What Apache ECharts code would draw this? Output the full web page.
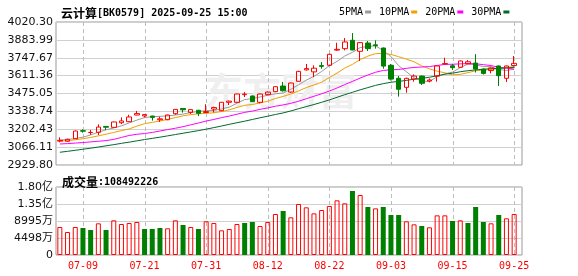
<!DOCTYPE html>
<html><head><meta charset="utf-8">
<script src="https://cdn.jsdelivr.net/npm/echarts@6/dist/echarts.min.js"></script>
<style>html,body{margin:0;padding:0;background:#fff;}#c{width:578px;height:276px;}</style>
</head><body><div id="c"></div>
<script>
const dates = ['07-04','07-07','07-08','07-09','07-10','07-11','07-14','07-15','07-16','07-17','07-18','07-21','07-22','07-23','07-24','07-25','07-28','07-29','07-30','07-31','08-01','08-04','08-05','08-06','08-07','08-08','08-11','08-12','08-13','08-14','08-15','08-18','08-19','08-20','08-21','08-22','08-25','08-26','08-27','08-28','08-29','09-01','09-02','09-03','09-04','09-05','09-08','09-09','09-10','09-11','09-12','09-15','09-16','09-17','09-18','09-19','09-22','09-23','09-24','09-25'];
const opens  = [3112,3111,3130,3191,3177,3179,3224,3217,3252,3260,3311,3304,3303,3275,3275,3321,3361,3331,3347,3330,3356,3344,3408,3408,3466,3456,3408,3466,3489,3532,3486,3568,3655,3640,3688,3690,3806,3817,3881,3797,3860,3846,3822,3690,3591,3522,3586,3608,3570,3608,3700,3686,3675,3702,3707,3661,3650,3685,3591,3688];
const closes = [3118,3126,3189,3188,3178,3219,3218,3258,3266,3296,3322,3314,3293,3282,3311,3354,3351,3352,3324,3337,3368,3408,3417,3471,3470,3413,3471,3486,3527,3496,3555,3644,3665,3668,3682,3774,3812,3868,3807,3863,3817,3840,3684,3585,3507,3591,3608,3553,3578,3685,3703,3672,3723,3717,3662,3628,3670,3611,3685,3705];
const lows   = [3103,3108,3128,3176,3160,3158,3197,3215,3242,3258,3309,3293,3268,3258,3272,3313,3329,3319,3303,3326,3330,3340,3387,3405,3448,3410,3400,3462,3485,3490,3480,3565,3650,3600,3664,3686,3800,3804,3805,3723,3799,3817,3664,3575,3451,3481,3565,3540,3560,3565,3698,3655,3672,3698,3635,3620,3629,3532,3563,3680];
const highs  = [3141,3130,3192,3202,3197,3240,3226,3260,3293,3313,3342,3318,3305,3298,3314,3357,3363,3354,3350,3393,3375,3410,3420,3474,3486,3460,3475,3490,3530,3563,3558,3648,3700,3690,3715,3778,3862,3898,3936,3866,3875,3880,3825,3700,3608,3595,3621,3612,3590,3688,3748,3700,3726,3730,3775,3665,3674,3688,3688,3761];
const volumes = [74100000,60800000,74100000,71400000,66100000,83800000,66100000,91700000,82000000,84700000,87300000,68800000,68800000,71400000,70600000,91700000,79400000,74100000,68800000,89100000,84700000,65300000,68800000,82000000,84700000,87300000,76700000,87300000,108500000,116400000,99700000,134900000,126100000,110200000,119000000,129600000,144600000,136700000,169300000,158700000,127000000,123400000,127000000,105800000,105800000,89000000,81100000,76700000,73200000,104900000,104900000,90000000,91700000,84700000,127000000,87300000,83800000,105800000,97100000,108492226];
const ma5  = [3120,3124,3132,3142,3159,3180,3198,3212,3228,3251,3272,3291,3298,3301,3304,3311,3318,3330,3338,3344,3346,3357,3371,3401,3428,3437,3448,3462,3473,3479,3507,3542,3577,3606,3643,3687,3720,3761,3789,3825,3834,3839,3802,3758,3687,3641,3595,3569,3567,3603,3625,3638,3672,3700,3695,3680,3680,3658,3651,3660];
const ma10 = [3112,3116,3122,3130,3140,3152,3165,3178,3192,3205,3226,3245,3255,3265,3278,3291,3305,3314,3320,3324,3328,3338,3350,3369,3385,3391,3403,3416,3437,3453,3471,3495,3520,3540,3561,3597,3631,3669,3697,3734,3760,3779,3781,3773,3756,3737,3717,3686,3663,3645,3633,3617,3621,3634,3649,3653,3659,3665,3676,3678];
const ma20 = [3090,3093,3097,3101,3106,3111,3116,3125,3140,3155,3164,3170,3178,3189,3200,3210,3222,3236,3250,3265,3277,3291,3303,3317,3331,3341,3354,3365,3378,3388,3400,3416,3435,3454,3473,3494,3517,3543,3567,3593,3616,3637,3651,3656,3658,3667,3674,3677,3680,3689,3697,3698,3701,3703,3702,3695,3688,3675,3669,3661];
const ma30 = [3027,3034,3042,3050,3058,3067,3076,3085,3095,3104,3114,3124,3133,3142,3152,3162,3172,3182,3192,3203,3215,3227,3240,3252,3264,3277,3290,3302,3315,3327,3342,3359,3375,3391,3408,3426,3446,3466,3484,3503,3520,3537,3550,3561,3567,3575,3584,3590,3599,3610,3622,3630,3641,3649,3655,3660,3664,3667,3670,3674];
const priceTicks = ['2929.80','3066.11','3202.43','3338.74','3475.05','3611.36','3747.67','3883.99','4020.30'];
const volTicks = ['0','4498万','8995万','1.35亿','1.80亿'];
const dateLabels = ['07-09','07-21','07-31','08-12','08-22','09-03','09-15','09-25'];

const pMin = 2929.80, pStep = 136.3125, pMax = 4020.30;
const vMax = 179900000, vStep = 44975000;
const RED = '#ff0000', GREEN = '#008000';
const mono = "'DejaVu Sans Mono','Liberation Mono',monospace";
const cjk = "'Noto Sans CJK SC',sans-serif";
const T1 = 22, H1 = 143, T2 = 187, H2 = 68;

const candleData = opens.map((o, i) => [o, closes[i], lows[i], highs[i]]);
const volData = volumes.map((v, i) => {
  const up = i === 0 || closes[i] >= closes[i - 1];
  return { value: v, itemStyle: up ? { color: 'rgba(255,255,255,0)', borderColor: RED, borderWidth: 1 } : { color: GREEN, borderColor: GREEN, borderWidth: 0 } };
});
const showDate = (idx, val) => dateLabels.indexOf(val) >= 0;

// dashed guide lines through the category axis, one per labelled date
const guideSeries = (xi, yi, lo, hi) => ({
  type: 'custom', xAxisIndex: xi, yAxisIndex: yi, z: 1, silent: true, clip: false,
  data: dateLabels.map(d => [d]),
  encode: { x: 0 },
  renderItem: (params, api) => {
    const top = api.coord([api.value(0), hi]);
    const bot = api.coord([api.value(0), lo]);
    const x = Math.round(top[0]) + 0.5;
    return { type: 'line', silent: true,
      shape: { x1: x, y1: top[1], x2: x, y2: bot[1] },
      style: { stroke: '#bdbdbd', lineWidth: 1, lineDash: [4, 3], fill: null } };
  }
});

const chart = echarts.init(document.getElementById('c'), null, { renderer: 'canvas' });
const lineS = (name, data, color) => ({
  name, type: 'line', data, xAxisIndex: 1, yAxisIndex: 1, symbol: 'none', smooth: false,
  lineStyle: { width: 1, color }, itemStyle: { color }, z: 3, silent: true
});
chart.setOption({
  animation: false,
  backgroundColor: '#fff',
  title: [
    { left: 56, top: 2, text: '{c|云计算}{m|[BK0579] 2025-09-25 15:00}',
      textStyle: { rich: { c: { fontFamily: cjk, fontSize: 12, color: '#000' }, m: { fontFamily: mono, fontSize: 10, color: '#000' } } } },
    { left: 57, top: 171, text: '{c|成交量}{m|:' + volumes[volumes.length - 1] + '}',
      textStyle: { rich: { c: { fontFamily: cjk, fontSize: 12, color: '#000' }, m: { fontFamily: mono, fontSize: 10, color: '#000' } } } }
  ],
  legend: {
    left: 334, top: 2, align: 'right', icon: 'rect', itemWidth: 6, itemHeight: 3, itemGap: 8,
    textStyle: { fontFamily: mono, fontSize: 10, color: '#000', padding: [0, -3, 0, 0] },
    data: ['5PMA', '10PMA', '20PMA', '30PMA']
  },
  graphic: [{
    type: 'text', left: 205, top: 72, z: 1, silent: true,
    style: { text: '东方财富', font: "bold 38px 'Noto Sans CJK SC'", fill: '#efefef' }
  }],
  grid: [
    { left: 56, top: T1, width: 466, height: H1, show: true, borderColor: '#999', borderWidth: 1, backgroundColor: 'rgba(0,0,0,0)' },
    { left: 56, top: T1, width: 462, height: H1 },
    { left: 56, top: T2, width: 466, height: H2, show: true, borderColor: '#999', borderWidth: 1, backgroundColor: 'rgba(0,0,0,0)' },
    { left: 56, top: T2, width: 462, height: H2 }
  ],
  xAxis: [
    { gridIndex: 0, type: 'value', min: 0, max: 1, show: false },
    { gridIndex: 1, type: 'category', data: dates, boundaryGap: true,
      axisLine: { show: false }, axisTick: { show: false }, axisLabel: { show: false }, splitLine: { show: false } },
    { gridIndex: 2, type: 'value', min: 0, max: 1, show: false },
    { gridIndex: 3, type: 'category', data: dates, boundaryGap: true,
      axisLine: { show: false }, axisTick: { show: false },
      axisLabel: { show: true, interval: showDate, color: RED, fontFamily: mono, fontSize: 10, margin: 6 },
      splitLine: { show: false } }
  ],
  yAxis: [
    { gridIndex: 0, type: 'value', min: pMin, max: pMax, interval: pStep, position: 'left',
      axisLine: { show: false }, axisTick: { show: false },
      axisLabel: { margin: 3, color: '#111', fontFamily: "'DejaVu Sans',sans-serif", fontSize: 11,
        formatter: v => priceTicks[Math.round((v - pMin) / pStep)] },
      splitLine: { show: true, lineStyle: { color: '#d0d0d0', width: 1 } } },
    { gridIndex: 1, type: 'value', min: pMin, max: pMax, show: false, splitLine: { show: false } },
    { gridIndex: 2, type: 'value', min: 0, max: vMax, interval: vStep, position: 'left',
      axisLine: { show: false }, axisTick: { show: false },
      axisLabel: { margin: 3, color: '#111', fontFamily: "'DejaVu Sans','Noto Sans CJK SC',sans-serif", fontSize: 11,
        formatter: v => volTicks[Math.round(v / vStep)] },
      splitLine: { show: true, lineStyle: { color: '#d0d0d0', width: 1 } } },
    { gridIndex: 3, type: 'value', min: 0, max: vMax, show: false, splitLine: { show: false } }
  ],
  series: [
    guideSeries(1, 1, pMin, pMax),
    guideSeries(3, 3, 0, vMax),
    { name: 'K', type: 'candlestick', xAxisIndex: 1, yAxisIndex: 1, data: candleData, barWidth: 5, z: 4, silent: true,
      itemStyle: { color: 'rgba(255,255,255,0)', color0: GREEN, borderColor: RED, borderColor0: GREEN, borderWidth: 1 } },
    lineS('5PMA', ma5, '#9a9a9a'),
    lineS('10PMA', ma10, '#f0a000'),
    lineS('20PMA', ma20, '#ff00ff'),
    lineS('30PMA', ma30, '#006a2a'),
    { name: 'VOL', type: 'bar', xAxisIndex: 3, yAxisIndex: 3, data: volData, barWidth: 5, silent: true, z: 4 }
  ]
});
</script></body></html>
